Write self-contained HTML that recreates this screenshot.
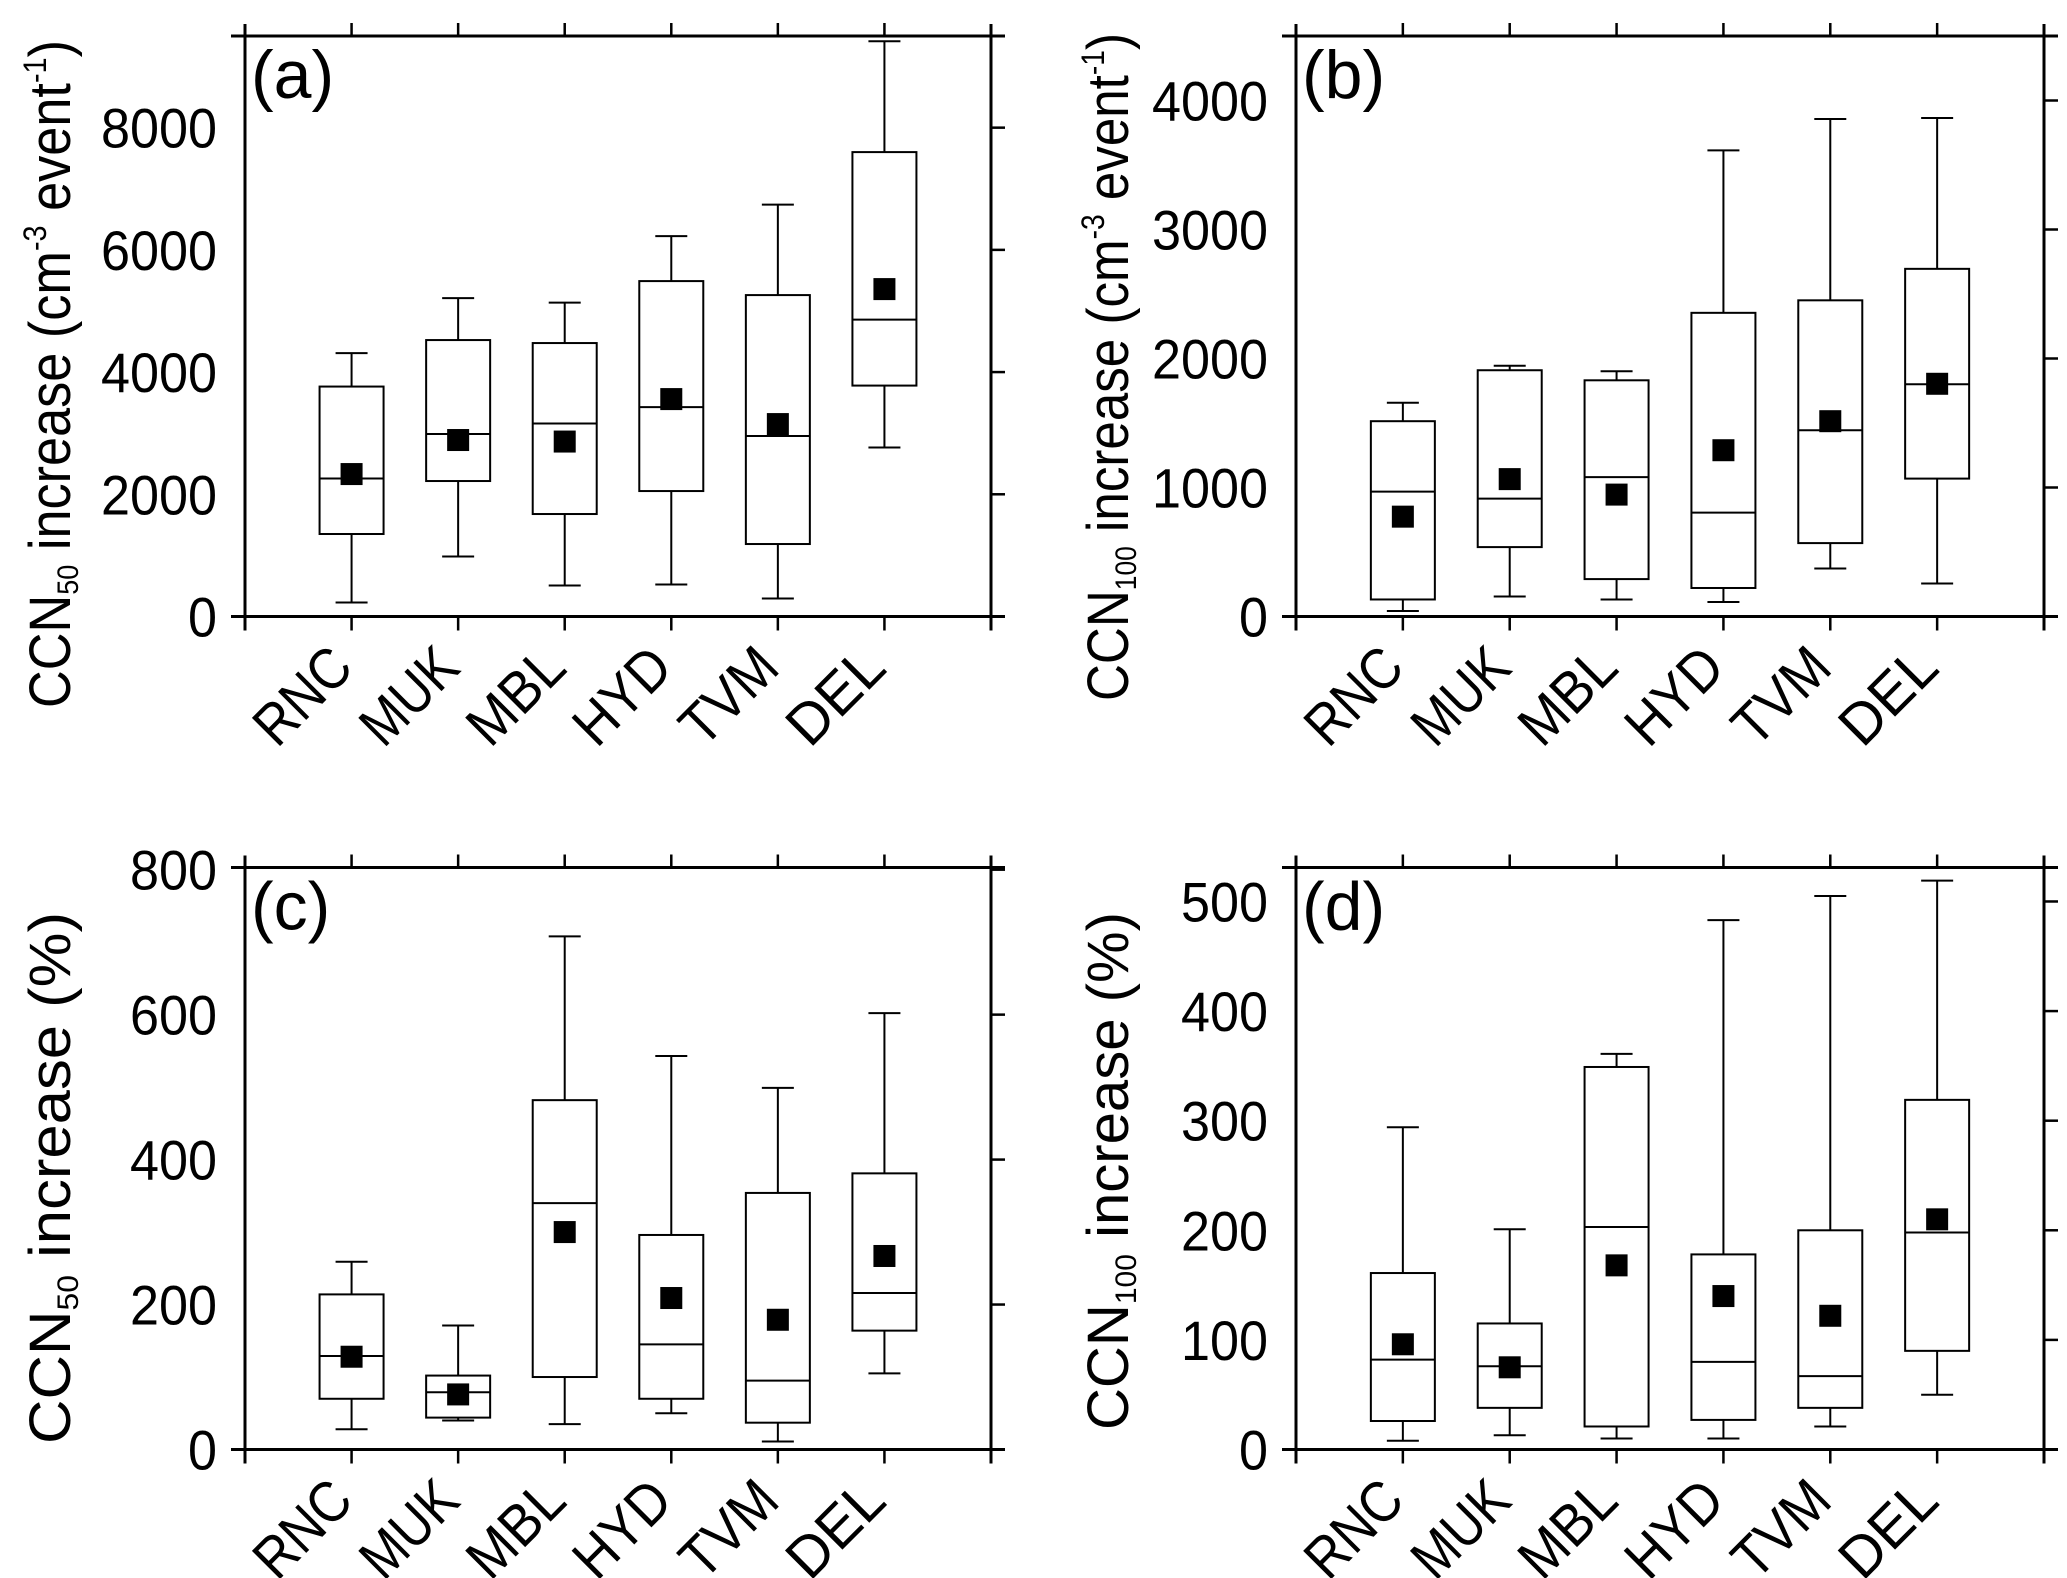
<!DOCTYPE html>
<html><head><meta charset="utf-8"><style>
html,body{margin:0;padding:0;background:#fff}
svg{display:block}
text{font-family:"Liberation Sans",Arial,sans-serif;fill:#000}
</style></head><body>
<svg id="chart" width="2067" height="1578" viewBox="0 0 2067 1578" xmlns="http://www.w3.org/2000/svg"></svg>
<script>
const categories = ["RNC","MUK","MBL","HYD","TVM","DEL"];
// panel (a) CCN50 cm-3 event-1
const aTop=[4311,5211,5137,6225,6740,9415], aQ3=[3763,4524,4475,5489,5260,7600], aMed=[2258,2986,3158,3427,2953,4859], aQ1=[1350,2217,1677,2053,1186,3779], aLow=[229,982,507,524,294,2765], aMean=[2331,2888,2863,3558,3149,5358];
const aTicks=[0,2000,4000,6000,8000];
// panel (b) CCN100 cm-3 event-1
const bTop=[1657,1944,1901,3613,3857,3864], bQ3=[1514,1909,1831,2354,2451,2695], bMed=[968,914,1080,805,1444,1800], bQ1=[132,538,290,221,569,1069], bLow=[43,155,132,112,372,256], bMean=[774,1065,945,1289,1514,1804];
const bTicks=[0,1000,2000,3000,4000];
// panel (c) CCN50 %
const cTop=[259,171,708,543,499,602], cQ3=[214,102,482,296,354,381], cMed=[129,79,340,145,95,216], cQ1=[70,44,100,70,37,164], cLow=[28,40,35,50,11,105], cMean=[128,76,300,209,179,267];
const cTicks=[0,200,400,600,800];
// panel (d) CCN100 %
const dTop=[294,201,361,483,505,519], dQ3=[161,115,349,178,200,319], dMed=[82,76,203,80,67,198], dQ1=[26,38,21,27,38,90], dLow=[8,13,10,10,21,50], dMean=[96,75,168,140,122,210];
const dTicks=[0,100,200,300,400,500];

const NS="http://www.w3.org/2000/svg";
const svg=document.getElementById('chart');
function mk(tag,attrs,parent){const e=document.createElementNS(NS,tag);for(const k in attrs)e.setAttribute(k,attrs[k]);(parent||svg).appendChild(e);return e;}

const panels=[
 {id:'a',L:245,R:991,T:36,B:616.5,max:9500,top:aTop,q3:aQ3,med:aMed,q1:aQ1,low:aLow,mean:aMean,ticks:aTicks,sub:'50',unit:true,tx:70,ty:374,tlen:668},
 {id:'b',L:1296,R:2044,T:36,B:616.5,max:4500,top:bTop,q3:bQ3,med:bMed,q1:bQ1,low:bLow,mean:bMean,ticks:bTicks,sub:'100',unit:true,tx:1128,ty:367,tlen:668},
 {id:'c',L:245,R:991,T:867.5,B:1449.5,max:803,top:cTop,q3:cQ3,med:cMed,q1:cQ1,low:cLow,mean:cMean,ticks:cTicks,sub:'50',unit:false,tx:70,ty:1178,tlen:532},
 {id:'d',L:1296,R:2044,T:867.5,B:1449.5,max:531,top:dTop,q3:dQ3,med:dMed,q1:dQ1,low:dLow,mean:dMean,ticks:dTicks,sub:'100',unit:false,tx:1128,ty:1171,tlen:518}
];

panels.forEach(p=>{
 const g=mk('g',{});
 
 
 const xs=i=>p.L+(p.R-p.L)*(i+1)/7;
 const ys=v=>p.B-(p.B-p.T)*v/p.max;
 const ln=(x1,y1,x2,y2,w,name)=>{const l=mk('line',{x1,y1,x2,y2,stroke:'#000','stroke-width':w},g);return l;};
 ln(p.L-14,p.B,p.R+14,p.B,3,'x-axis-line');
 ln(p.L-14,p.T,p.R+14,p.T,3,'top-frame-line');
 ln(p.L,p.T-12,p.L,p.B+14,3,'y-axis-line');
 ln(p.R,p.T-12,p.R,p.B+14,3,'right-frame-line');
 for(let i=0;i<categories.length;i++){
  ln(xs(i),p.T-13,xs(i),p.T,2.5,'top-tick');
  ln(xs(i),p.B,xs(i),p.B+14,2.5,'x-tick');
 }
 p.ticks.forEach(v=>{
  ln(p.R,ys(v),p.R+14,ys(v),2.5,'right-tick');
  const s=String(v);
  const t=mk('text',{x:p.L-28,y:ys(v)+20,'font-size':56,'text-anchor':'end',textLength:s.length*29,lengthAdjust:'spacingAndGlyphs'},g);
  t.textContent=s;
  
  
 });
 const pl=mk('text',{x:p.L+6,y:p.T+62,'font-size':68},g);
 pl.textContent='('+p.id+')';
 
 
 const yt=mk('text',{x:0,y:0,'font-size':58,'text-anchor':'middle',transform:`translate(${p.tx},${p.ty}) rotate(-90)`,textLength:p.tlen,lengthAdjust:'spacingAndGlyphs'},g);
 
 
 let h='CCN<tspan font-size="30" dy="8">'+p.sub+'</tspan><tspan dy="-8"> increase </tspan>';
 if(p.unit) h+='<tspan>(cm</tspan><tspan font-size="32" dy="-24">-3</tspan><tspan dy="24"> event</tspan><tspan font-size="32" dy="-24">-1</tspan><tspan dy="24">)</tspan>';
 else h+='<tspan>(%)</tspan>';
 yt.innerHTML=h;
 categories.forEach((c,i)=>{
  const x=xs(i)+4,y=p.B+54;
  const t=mk('text',{x,y,'font-size':58,'text-anchor':'end',transform:`rotate(-45 ${x} ${y})`,textLength:c.length*37,lengthAdjust:'spacingAndGlyphs'},g);
  t.textContent=c;
  
  
 });
 for(let i=0;i<categories.length;i++){
  const x=xs(i),bw=32,cw=16;
  const bg=mk('g',{},g);
  
  
  const l=(x1,y1,x2,y2)=>mk('line',{x1,y1,x2,y2,stroke:'#000','stroke-width':2},bg);
  l(x,ys(p.top[i]),x,ys(p.q3[i]));
  l(x,ys(p.q1[i]),x,ys(p.low[i]));
  l(x-cw,ys(p.top[i]),x+cw,ys(p.top[i]));
  l(x-cw,ys(p.low[i]),x+cw,ys(p.low[i]));
  mk('rect',{x:x-bw,y:ys(p.q3[i]),width:bw*2,height:ys(p.q1[i])-ys(p.q3[i]),fill:'#fff',stroke:'#000','stroke-width':2},bg);
  l(x-bw,ys(p.med[i]),x+bw,ys(p.med[i]));
  const m=mk('rect',{x:x-11,y:ys(p.mean[i])-11,width:22,height:22,fill:'#000'},bg);
  
  
 }
});
</script>
</body></html>
